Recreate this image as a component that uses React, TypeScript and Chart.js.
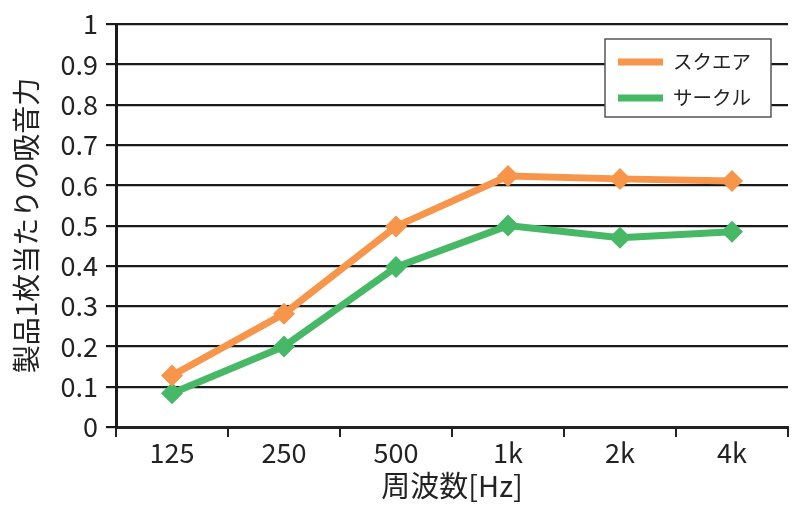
import React, { useEffect, useRef } from "react";
import { Chart, registerables } from "chart.js";

Chart.register(...registerables);

const categories = ["125", "250", "500", "1k", "2k", "4k"];
const squareValues = [0.128, 0.281, 0.498, 0.623, 0.616, 0.611];
const circleValues = [0.084, 0.2, 0.397, 0.5, 0.47, 0.485];
const seriesLabels = ["スクエア", "サークル"];
const yTicks = [0, 0.1, 0.2, 0.3, 0.4, 0.5, 0.6, 0.7, 0.8, 0.9, 1];

const ORANGE = "#F7964A";
const GREEN = "#46B866";
const FONT = "'Noto Sans CJK JP', 'Noto Sans', sans-serif";

const boxLegend = {
  id: "boxLegend",
  afterDraw(chart: any) {
    const ctx = chart.ctx;
    const x = 605, y = 39, w = 166, h = 78;
    ctx.save();
    ctx.fillStyle = "#ffffff";
    ctx.fillRect(x, y, w, h);
    ctx.strokeStyle = "#555555";
    ctx.lineWidth = 1.5;
    ctx.strokeRect(x, y, w, h);
    const rows = [62, 98];
    chart.data.datasets.forEach((ds: any, i: number) => {
      const ry = rows[i];
      ctx.strokeStyle = ds.borderColor;
      ctx.lineWidth = 7;
      ctx.lineCap = "butt";
      ctx.beginPath();
      ctx.moveTo(618, ry);
      ctx.lineTo(663, ry);
      ctx.stroke();
      ctx.fillStyle = "#222222";
      ctx.font = `19.5px ${FONT}`;
      ctx.textBaseline = "middle";
      ctx.textAlign = "left";
      ctx.fillText(ds.label, 673, ry);
    });
    ctx.restore();
  },
};

export default function App() {
  const ref = useRef<HTMLCanvasElement>(null);
  useEffect(() => {
    document.body.style.margin = "0";
    const chart = new Chart(ref.current!, {
      type: "line",
      data: {
        labels: categories,
        datasets: [
          {
            label: seriesLabels[0],
            data: squareValues,
            borderColor: ORANGE,
            backgroundColor: ORANGE,
            borderWidth: 7,
            pointStyle: "rectRot",
            pointRadius: 11,
            pointBorderWidth: 0,
            fill: false,
            tension: 0,
          },
          {
            label: seriesLabels[1],
            data: circleValues,
            borderColor: GREEN,
            backgroundColor: GREEN,
            borderWidth: 7,
            pointStyle: "rectRot",
            pointRadius: 11,
            pointBorderWidth: 0,
            fill: false,
            tension: 0,
          },
        ],
      },
      options: {
        responsive: false,
        animation: false,
        layout: { padding: { top: 21, right: 12, left: 0, bottom: 0 } },
        plugins: {
          legend: { display: false },
          tooltip: { enabled: false },
        },
        scales: {
          x: {
            type: "category",
            offset: true,
            grid: {
              offset: true,
              drawOnChartArea: false,
              drawTicks: true,
              tickLength: 10,
              color: "#222222",
              lineWidth: 2,
            },
            border: { display: true, color: "#222222", width: 3 },
            ticks: {
              color: "#222222",
              font: { family: FONT, size: 27 },
              padding: 0,
            },
            title: {
              display: true,
              text: "周波数[Hz]",
              color: "#222222",
              font: { family: FONT, size: 29 },
              padding: { top: 0, bottom: 3 },
            },
            afterFit(scale: any) {
              scale.height = 79;
            },
          },
          y: {
            min: 0,
            max: 1,
            afterBuildTicks(scale: any) {
              scale.ticks = yTicks.map((v) => ({ value: v }));
            },
            grid: {
              color: "#1a1a1a",
              lineWidth: 2.2,
              tickLength: 10,
            },
            border: { display: true, color: "#1a1a1a", width: 3 },
            ticks: {
              color: "#222222",
              font: { family: FONT, size: 27 },
              padding: 8,
              callback: (v: any) => String(v),
            },
            title: {
              display: true,
              text: "製品1枚当たりの吸音力",
              color: "#222222",
              font: { family: FONT, size: 28 },
              padding: { top: 10, bottom: 0 },
            },
            afterFit(scale: any) {
              scale.width = 116;
            },
          },
        },
      },
      plugins: [boxLegend],
    });
    return () => chart.destroy();
  }, []);
  return <canvas ref={ref} width={800} height={506} style={{ display: "block" }} />;
}
